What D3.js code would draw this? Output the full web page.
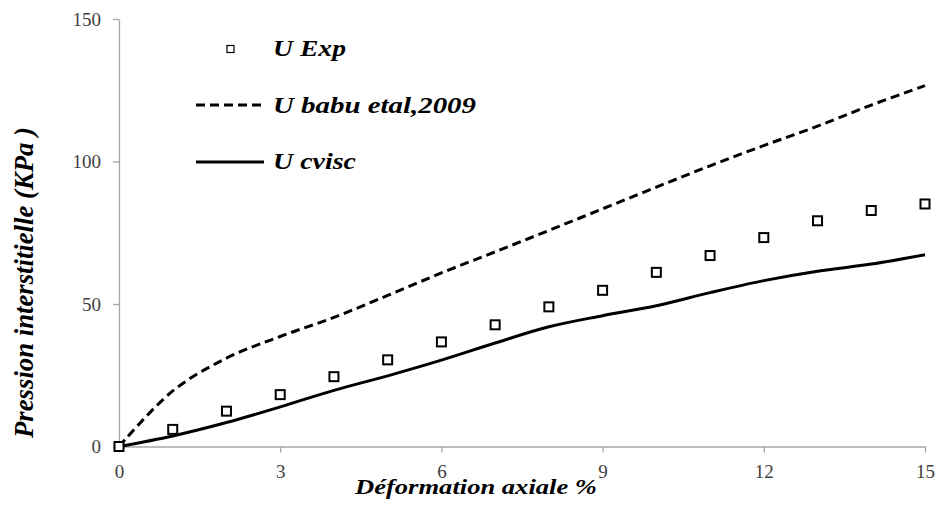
<!DOCTYPE html>
<html>
<head>
<meta charset="utf-8">
<script src="https://cdn.jsdelivr.net/npm/d3@7"></script>
<style>
  html, body { margin: 0; padding: 0; background: #fff; }
  svg { display: block; }
  .serif { font-family: "Liberation Serif", "Times New Roman", Times, serif; }
  .bi { font-weight: bold; font-style: italic; fill: #000; }
</style>
</head>
<body>
<svg id="chart" width="936" height="515"></svg>
<script>
// Déformation axiale (%)
const strain = [0, 1, 2, 3, 4, 5, 6, 7, 8, 9, 10, 11, 12, 13, 14, 15];
// Pression interstitielle mesurée (kPa)
const uExp = [0, 6.0, 12.4, 18.2, 24.5, 30.4, 36.7, 42.7, 49.0, 54.8, 61.1, 67.0, 73.3, 79.2, 82.8, 85.1];
// Modèle Babu et al., 2009
const uBabu = [0, 19.5, 31.0, 38.6, 45.3, 53.0, 60.9, 68.3, 75.8, 83.4, 91.0, 98.5, 105.6, 112.4, 119.8, 126.6];
// Modèle cvisc
const uCvisc = [0, 3.7, 8.4, 13.9, 19.7, 24.8, 30.3, 36.3, 42.0, 45.9, 49.4, 54.0, 58.2, 61.5, 64.0, 67.3];

const xTicks = [0, 3, 6, 9, 12, 15];
const yTicks = [0, 50, 100, 150];

const legendLabels = ["U Exp", "U babu etal,2009", "U cvisc"];

const svg = d3.select("#chart");
const margin = { left: 119, right: 11, top: 19, bottom: 69 };
const W = 936, H = 515;

const x = d3.scaleLinear().domain([0, 15]).range([margin.left, W - margin.right]);
const y = d3.scaleLinear().domain([0, 150]).range([H - margin.bottom + 0.5, margin.top]);

const axisColor = "#a6a6a6";
const tickTextColor = "#404040";

// Axes
const xAxis = svg.append("g")
  .attr("transform", `translate(0,${y(0)})`)
  .call(d3.axisBottom(x).tickValues(xTicks).tickSize(6).tickPadding(10).tickSizeOuter(0));
const yAxis = svg.append("g")
  .attr("transform", `translate(${x(0)},0)`)
  .call(d3.axisLeft(y).tickValues(yTicks).tickSize(6).tickPadding(12).tickSizeOuter(0));

[xAxis, yAxis].forEach(g => {
  g.attr("font-family", null).attr("font-size", null);
  g.select(".domain").attr("stroke", axisColor).attr("stroke-width", 1.3);
  g.selectAll(".tick line").attr("stroke", axisColor).attr("stroke-width", 1.3);
  g.selectAll(".tick text")
    .attr("class", "serif")
    .attr("fill", tickTextColor)
    .style("font-size", "19px");
});
xAxis.selectAll(".tick text").attr("dy", "0.8em");
yAxis.selectAll(".tick text").attr("dy", "0.34em");

// Axis titles
svg.append("text")
  .attr("class", "serif bi")
  .attr("x", 355).attr("y", 494)
  .attr("textLength", 242).attr("lengthAdjust", "spacingAndGlyphs")
  .style("font-size", "22px")
  .text("Déformation axiale %");

svg.append("text")
  .attr("class", "serif bi")
  .attr("transform", "translate(33,438) rotate(-90)")
  .attr("textLength", 311).attr("lengthAdjust", "spacingAndGlyphs")
  .style("font-size", "27px")
  .text("Pression interstitielle (KPa )");

// Curves
const line = vals => d3.line()
  .x((d, i) => x(strain[i]))
  .y(d => y(d))
  .curve(d3.curveCatmullRom.alpha(0.5))(vals);

svg.append("path")
  .attr("d", line(uBabu))
  .attr("fill", "none").attr("stroke", "#000")
  .attr("stroke-width", 3).attr("stroke-dasharray", "9,5");

svg.append("path")
  .attr("d", line(uCvisc))
  .attr("fill", "none").attr("stroke", "#000")
  .attr("stroke-width", 3);

// Experimental points
const sq = 9;
svg.append("g").selectAll("rect")
  .data(uExp)
  .join("rect")
  .attr("x", (d, i) => x(strain[i]) - sq / 2)
  .attr("y", d => y(d) - sq / 2)
  .attr("width", sq).attr("height", sq)
  .attr("fill", "#fff").attr("stroke", "#000").attr("stroke-width", 2);

// Legend
const leg = svg.append("g");
const legText = (ty, label, len) => leg.append("text")
  .attr("class", "serif bi")
  .attr("x", 273).attr("y", ty)
  .attr("textLength", len).attr("lengthAdjust", "spacingAndGlyphs")
  .style("font-size", "23px")
  .text(label);

leg.append("rect")
  .attr("x", 227).attr("y", 45.5).attr("width", 7).attr("height", 7)
  .attr("fill", "#fff").attr("stroke", "#000").attr("stroke-width", 1.2);
legText(56, legendLabels[0], 73);

leg.append("line")
  .attr("x1", 196).attr("x2", 265).attr("y1", 105).attr("y2", 105)
  .attr("stroke", "#000").attr("stroke-width", 3).attr("stroke-dasharray", "9,5");
legText(113, legendLabels[1], 203);

leg.append("line")
  .attr("x1", 196).attr("x2", 264).attr("y1", 162).attr("y2", 162)
  .attr("stroke", "#000").attr("stroke-width", 3);
legText(169, legendLabels[2], 83);
</script>
</body>
</html>
